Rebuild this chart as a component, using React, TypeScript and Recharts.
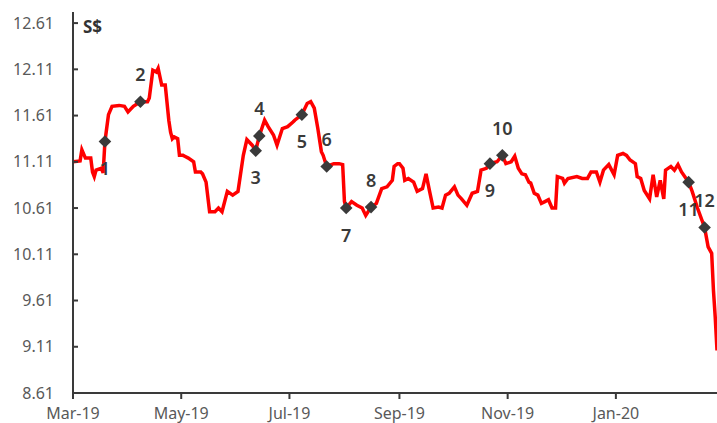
import React from 'react';
import { ComposedChart, Line, XAxis, YAxis } from 'recharts';

// Day offsets from 1 Mar 2019 and share price (S$)
const days = [
  0, 4, 5, 7, 10, 11, 12, 13, 16, 17, 18, 20, 22, 26, 29, 31, 34, 38, 42, 43,
  45, 47, 48, 50, 52, 54, 55, 56, 57, 59, 60, 62, 63, 65, 68, 69, 72, 73, 75, 77,
  80, 82, 84, 87, 90, 93, 96, 98, 101, 103, 105, 108, 110, 113, 115, 118, 121, 124, 125, 129,
  132, 134, 136, 138, 140, 141, 143, 147, 150, 152, 153, 154, 157, 160, 163, 165, 168, 171, 174, 177,
  180, 181, 183, 184, 186, 187, 189, 192, 194, 197, 199, 201, 203, 206, 208, 210, 212, 215, 217, 219,
  222, 225, 228, 230, 233, 235, 239, 242, 244, 247, 249, 251, 253, 255, 257, 258, 260, 262, 264, 266,
  268, 270, 272, 273, 276, 277, 279, 284, 287, 290, 292, 295, 297, 299, 302, 305, 307, 310, 312, 314,
  317, 318, 320, 322, 325, 327, 329, 331, 333, 334, 337, 339, 341, 343, 347, 349, 352, 356, 358, 360,
  361, 362, 363,
];
const prices = [
  11.11, 11.12, 11.24, 11.15, 11.15, 11.0, 10.95, 11.02, 11.04, 10.99, 11.33, 11.62, 11.71, 11.72, 11.71, 11.65, 11.71, 11.76, 11.76, 11.8,
  12.1, 12.08, 12.12, 11.94, 11.94, 11.56, 11.43, 11.36, 11.38, 11.36, 11.18, 11.18, 11.17, 11.15, 11.11, 11.0, 11.0, 10.98, 10.89, 10.57,
  10.57, 10.61, 10.57, 10.79, 10.75, 10.79, 11.18, 11.35, 11.29, 11.23, 11.39, 11.56, 11.49, 11.4, 11.29, 11.47, 11.49, 11.54, 11.56, 11.62,
  11.74, 11.76, 11.69, 11.47, 11.22, 11.18, 11.06, 11.09, 11.09, 11.08, 10.68, 10.61, 10.68, 10.64, 10.61, 10.53, 10.62, 10.66, 10.82, 10.84,
  10.91, 11.06, 11.09, 11.09, 11.04, 10.91, 10.93, 10.89, 10.79, 10.82, 10.98, 10.79, 10.61, 10.62, 10.61, 10.75, 10.77, 10.84, 10.75, 10.71,
  10.64, 10.77, 10.79, 11.02, 11.04, 11.09, 11.11, 11.18, 11.09, 11.11, 11.17, 11.04, 10.98, 10.97, 10.89, 10.88, 10.77, 10.75, 10.66, 10.68,
  10.7, 10.61, 10.61, 10.95, 10.93, 10.88, 10.93, 10.95, 10.93, 10.93, 11.0, 11.0, 10.89, 11.02, 11.08, 10.97, 11.18, 11.2, 11.18, 11.13,
  11.09, 10.95, 10.93, 10.8, 10.71, 10.97, 10.73, 10.91, 10.71, 11.02, 11.06, 11.02, 11.08, 11.0, 10.89, 10.79, 10.61, 10.4, 10.19, 10.12,
  9.72, 9.43, 9.07,
];

// Numbered events marked on the price line
const eventDays = [18, 38, 103, 105, 129, 143, 154, 168, 235, 242, 347, 356];
const eventLabels = ['1', '2', '3', '4', '5', '6', '7', '8', '9', '10', '11', '12'];

// X axis tick positions (first of month) and labels
const xTicks = [0, 61, 122, 184, 245, 306];
const xTickLabels = ['Mar-19', 'May-19', 'Jul-19', 'Sep-19', 'Nov-19', 'Jan-20'];
const yTicks = [8.61, 9.11, 9.61, 10.11, 10.61, 11.11, 11.61, 12.11, 12.61];

const data = days.map((d, i) => {
  const k = eventDays.indexOf(d);
  return {
    day: d,
    price: prices[i],
    marker: k >= 0 ? prices[i] : null,
    label: k >= 0 ? eventLabels[k] : null,
    eventIndex: k,
  };
});

// label placement: +1 below marker, -1 above marker
const labelSide = [1, -1, 1, -1, 1, -1, 1, -1, 1, -1, 1, -1];

const MarkerDot = (props: any) => {
  const { cx, cy, payload } = props;
  if (payload == null || payload.marker == null || cx == null || cy == null) return null;
  const s = 6.3;
  const side = labelSide[payload.eventIndex] ?? 1;
  return (
    <g key={`m-${payload.day}`}>
      <polygon
        points={`${cx},${cy - s} ${cx + s},${cy} ${cx},${cy + s} ${cx - s},${cy}`}
        fill="#3a3a3a"
      />
      <text
        x={cx}
        y={cy + side * 27}
        dy="0.36em"
        textAnchor="middle"
        fontSize={18}
        fontWeight={600}
        fill="#3a3a3a"
        fontFamily="'Noto Sans', sans-serif"
      >
        {payload.label}
      </text>
    </g>
  );
};

export default function App() {
  return (
    <div style={{ position: 'absolute', left: 0, top: 0, width: 717, height: 423, background: '#fff' }}>
      <ComposedChart
        width={717}
        height={423}
        data={data}
        margin={{ top: 12, right: 0, bottom: 0, left: 0 }}
        style={{ fontFamily: "'Noto Sans', sans-serif" }}
      >
        <XAxis
          dataKey="day"
          type="number"
          domain={[0, 363]}
          ticks={xTicks}
          tickFormatter={(v: number) => xTickLabels[xTicks.indexOf(v)] ?? ''}
          height={30}
          tickSize={6}
          tickMargin={9}
          stroke="#3a3a3a"
          strokeWidth={2}
          tick={{ fill: '#595959', fontSize: 16 }}
          allowDataOverflow
          interval={0}
        />
        <YAxis
          type="number"
          domain={[8.61, 12.73]}
          ticks={yTicks}
          tickFormatter={(v: number) => v.toFixed(2)}
          width={73}
          tickSize={-5}
          tickMargin={24}
          stroke="#3a3a3a"
          strokeWidth={2}
          tick={{ fill: '#595959', fontSize: 16 }}
          allowDataOverflow
          interval={0}
        />
        <Line
          dataKey="price"
          type="linear"
          stroke="#ff0000"
          strokeWidth={3.5}
          dot={false}
          activeDot={false}
          isAnimationActive={false}
        />
        <Line
          dataKey="marker"
          type="linear"
          stroke="none"
          dot={MarkerDot}
          activeDot={false}
          isAnimationActive={false}
        />
        <text x={83} y={33} fontSize={17} fontWeight={700} fill="#333" fontFamily="'Noto Sans', sans-serif">
          S$
        </text>
      </ComposedChart>
    </div>
  );
}
